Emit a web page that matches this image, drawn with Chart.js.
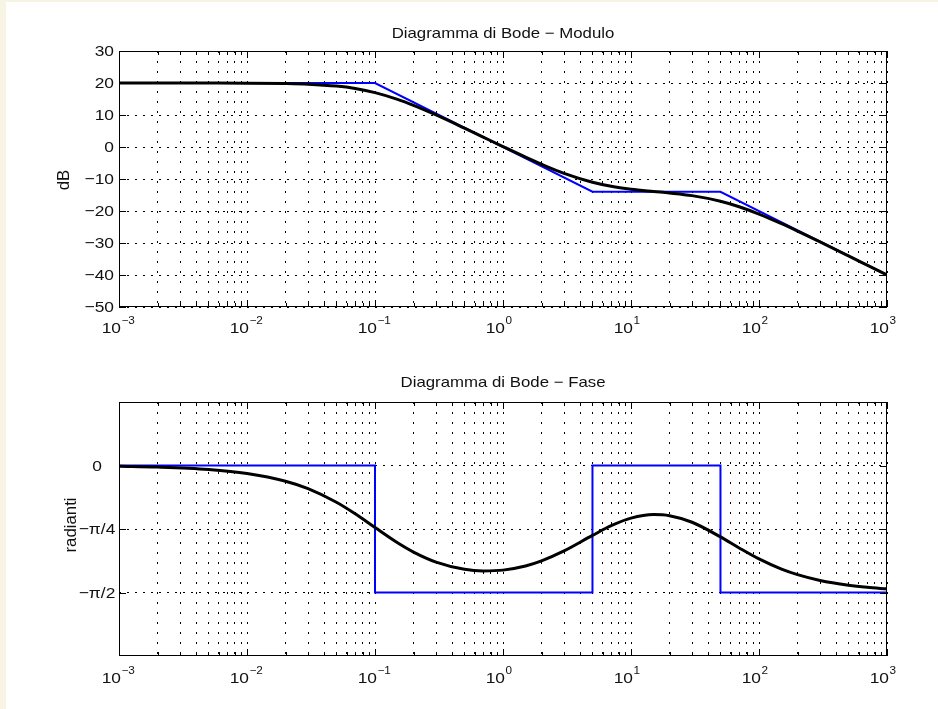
<!DOCTYPE html>
<html>
<head>
<meta charset="utf-8">
<script src="https://cdn.jsdelivr.net/npm/chart.js@4"></script>
<style>
  html, body { margin: 0; padding: 0; }
  body { background: #f7f4e4; width: 938px; height: 709px; overflow: hidden; position: relative; }
  #sheet { position: absolute; left: 6px; top: 2px; right: 0; bottom: 0; background: #fff; }
  canvas { position: absolute; left: 0; }
  #modulo { top: 0; }
  #fase { top: 340px; }
</style>
</head>
<body>
<div id="sheet"></div>
<canvas id="modulo" width="938" height="340"></canvas>
<canvas id="fase" width="938" height="369"></canvas>
<script>
// pulsazioni (rad/s) e valori
const freq = [0.001, 0.002, 0.005, 0.01, 0.02, 0.03, 0.05, 0.07, 0.1, 0.15, 0.2, 0.3, 0.5, 0.7,
  1, 1.5, 2, 3, 5, 7, 10, 15, 20, 30, 50, 70, 100, 150, 200, 300, 500, 700, 1000];
const moduloDb = [20.0, 20.0, 19.99, 19.96, 19.83, 19.63, 19.03, 18.27, 16.99, 14.89, 13.02, 10.02, 5.89, 3.09,
  0.13, -3.17, -5.39, -8.23, -11.01, -12.27, -13.18, -13.9, -14.37, -15.2, -16.95, -18.67, -20.96, -23.97, -26.28, -29.66, -34.02, -36.92, -40.0];
const faseRad = [-0.01, -0.02, -0.049, -0.098, -0.194, -0.286, -0.455, -0.598, -0.767, -0.956, -1.071, -1.195, -1.284, -1.304,
  -1.294, -1.243, -1.18, -1.057, -0.865, -0.745, -0.651, -0.607, -0.621, -0.702, -0.883, -1.02, -1.156, -1.282, -1.35, -1.422, -1.481, -1.507, -1.526];

// diagrammi asintotici
const asintModuloFreq = [0.001, 0.1, 5, 50, 1000];
const asintModulo = [20, 20, -13.98, -13.98, -40];
const asintFaseFreq = [0.001, 0.1, 0.1, 5, 5, 50, 50, 1000];
const asintFase = [0, 0, -1.5708, -1.5708, 0, 0, -1.5708, -1.5708];

// assi
const xDecadi = [-3, -2, -1, 0, 1, 2, 3];
const moduloTicks = [30, 20, 10, 0, -10, -20, -30, -40, -50];
const moduloLabels = ['30', '20', '10', '0', '−10', '−20', '−30', '−40', '−50'];
const faseTicks = [0, -0.7854, -1.5708];
const faseLabels = ['0', '−π/4', '−π/2'];

const xGrid = [];
for (let e = -3; e < 3; e++) {
  for (let k = 1; k < 10; k++) xGrid.push(k * Math.pow(10, e));
}
xGrid.push(1000);

const FONT = '"Liberation Sans", Arial, Helvetica, sans-serif';
const SX = 1.12;

function isDecade(v) {
  const l = Math.log10(v);
  return Math.abs(l - Math.round(l)) < 1e-9;
}

function txt(ctx, s, x, y, size, align) {
  ctx.save();
  ctx.translate(x, y);
  ctx.scale(SX, 1);
  ctx.font = size + 'px ' + FONT;
  ctx.textAlign = align;
  ctx.textBaseline = 'alphabetic';
  ctx.fillText(s, 0, 0);
  ctx.restore();
}

const bodeDecor = {
  id: 'bodeDecor',
  afterDraw(chart, args, o) {
    const ctx = chart.ctx;
    const { left, right, top, bottom } = chart.chartArea;
    const xs = chart.scales.x, ys = chart.scales.y;
    ctx.save();
    ctx.strokeStyle = '#000';
    ctx.lineWidth = 1;
    ctx.beginPath();
    xGrid.forEach(v => {
      const px = Math.round(xs.getPixelForValue(v)) + 0.5;
      const len = isDecade(v) ? 7 : 4;
      ctx.moveTo(px, bottom); ctx.lineTo(px, bottom - len);
      ctx.moveTo(px, top); ctx.lineTo(px, top + len);
    });
    o.yTicks.forEach(v => {
      const py = Math.round(ys.getPixelForValue(v)) + 0.5;
      ctx.moveTo(left, py); ctx.lineTo(left + 7, py);
      ctx.moveTo(right, py); ctx.lineTo(right - 7, py);
    });
    ctx.stroke();
    ctx.strokeRect(Math.round(left) + 0.5, Math.round(top) + 0.5, Math.round(right - left) - 1, Math.round(bottom - top) - 1);

    ctx.fillStyle = '#111';
    txt(ctx, o.title, (left + right) / 2, o.titleY, 15, 'center');
    o.yTicks.forEach((v, i) => {
      txt(ctx, o.yLabels[i], o.yLabelX, ys.getPixelForValue(v) + 5, 15.5, o.yLabelAlign);
    });
    xDecadi.forEach(e => {
      const px = xs.getPixelForValue(Math.pow(10, e));
      const base = bottom + o.xBase;
      txt(ctx, '10', px + 2, base, 15.5, 'right');
      txt(ctx, String(e).replace('-', '−'), px + 2.5, base - 9, 10.5, 'left');
    });

    ctx.save();
    ctx.translate(o.yTitleX, o.yTitleY);
    ctx.rotate(-Math.PI / 2);
    ctx.scale(SX, SX);
    ctx.font = '15px ' + FONT;
    ctx.textAlign = 'center';
    ctx.textBaseline = 'middle';
    ctx.fillText(o.yTitle, 0, 0);
    ctx.restore();
    ctx.restore();
  }
};

function makeChart(id, cfg) {
  return new Chart(document.getElementById(id), {
    type: 'line',
    data: {
      datasets: [
        {
          data: freq.map((f, i) => ({ x: f, y: cfg.curve[i] })),
          borderColor: '#000',
          borderWidth: 3,
          pointRadius: 0,
          cubicInterpolationMode: 'monotone',
          fill: false
        },
        {
          data: cfg.asintFreq.map((f, i) => ({ x: f, y: cfg.asint[i] })),
          borderColor: '#0000ff',
          borderWidth: 2,
          pointRadius: 0,
          tension: 0,
          fill: false
        }
      ]
    },
    options: {
      responsive: false,
      animation: false,
      events: [],
      layout: { padding: { left: 0, right: 51, top: cfg.padTop, bottom: 0 } },
      plugins: {
        legend: { display: false },
        tooltip: { enabled: false },
        bodeDecor: cfg.decor
      },
      scales: {
        x: {
          type: 'logarithmic',
          min: 0.001,
          max: 1000,
          ticks: { display: false },
          grid: { color: '#000', lineWidth: 1, drawTicks: false },
          border: { display: false, dash: [2, 8] },
          afterBuildTicks: s => { s.ticks = xGrid.map(v => ({ value: v })); },
          afterFit: s => { s.height = cfg.xHeight; }
        },
        y: {
          type: 'linear',
          min: cfg.yMin,
          max: cfg.yMax,
          ticks: { display: false },
          grid: { color: '#000', lineWidth: 1, drawTicks: false },
          border: { display: false, dash: [2, 6] },
          afterBuildTicks: s => { s.ticks = cfg.decor.yTicks.map(v => ({ value: v })); },
          afterFit: s => { s.width = 119; }
        }
      }
    },
    plugins: [bodeDecor]
  });
}

makeChart('modulo', {
  curve: moduloDb,
  asintFreq: asintModuloFreq,
  asint: asintModulo,
  padTop: 51,
  xHeight: 33,
  yMin: -50,
  yMax: 30,
  decor: {
    title: 'Diagramma di Bode − Modulo',
    titleY: 38,
    yTicks: moduloTicks,
    yLabels: moduloLabels,
    yLabelX: 114,
    yLabelAlign: 'right',
    xBase: 26,
    yTitle: 'dB',
    yTitleX: 64,
    yTitleY: 180
  }
});

makeChart('fase', {
  curve: faseRad,
  asintFreq: asintFaseFreq,
  asint: asintFase,
  padTop: 62,
  xHeight: 53,
  yMin: -2.3562,
  yMax: 0.7854,
  decor: {
    title: 'Diagramma di Bode − Fase',
    titleY: 47,
    yTicks: faseTicks,
    yLabels: faseLabels,
    yLabelX: 97,
    yLabelAlign: 'center',
    xBase: 27,
    yTitle: 'radianti',
    yTitleX: 71,
    yTitleY: 185
  }
});
</script>
</body>
</html>
